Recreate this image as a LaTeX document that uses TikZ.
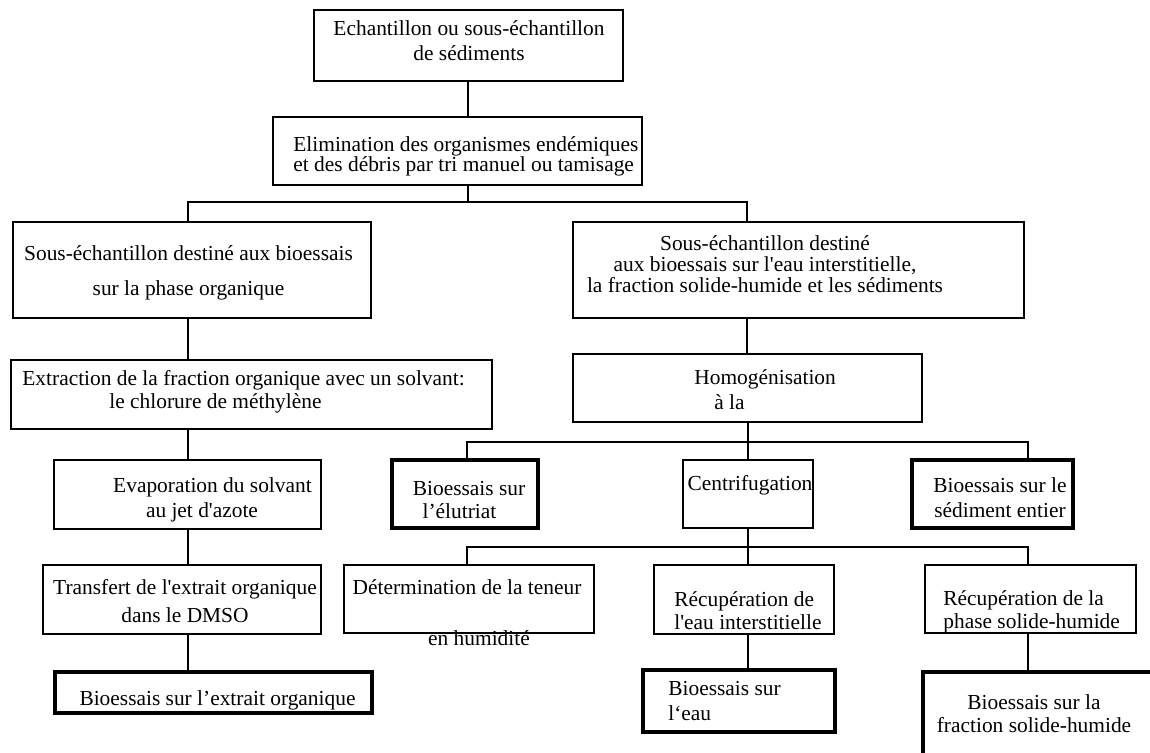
\documentclass[tikz,border=0pt]{standalone}
\usepackage{fontspec}
\setmainfont{Liberation Serif}
\tikzset{
  box/.style = {draw, line width=1pt, inner sep=0pt},
  tbox/.style = {box, line width=2.2pt},
  sz/.style n args = {2}{minimum width=#1*0.5pt, minimum height=#2*0.5pt},
  txt/.style = {inner sep=0pt, align=center, font=\fontsize{10.7}{12.5}\selectfont},
  lsp/.style = {font=\fontsize{10.7}{#1}\selectfont},
  link/.style = {line width=1.3pt}
}
\begin{document}
\begin{tikzpicture}[x=0.5pt, y=-0.5pt]
  \clip (0,0) rectangle (1150,752);

  % boxes
  \node[box, sz={309}{71}] (smp) at (468.5,45.5) {};
  \node[box, sz={369}{68}] (sort) at (457.5,151) {};
  \node[box, sz={358}{96}] (org) at (192,270) {};
  \node[box, sz={451}{96}] (wat) at (798.5,270) {};
  \node[box, sz={481}{69}] (ext) at (251.5,394.5) {};
  \node[box, sz={349}{68}] (hom) at (747.5,388) {};
  \node[box, sz={267}{69}] (eva) at (187.5,494.5) {};
  \node[box, sz={278}{69}] (tra) at (182,599.5) {};
  \node[tbox, sz={317}{41}] (bex) at (213.5,692.5) {};
  \node[tbox, sz={146}{68}] (elu) at (465,494) {};
  \node[box, sz={130}{68}] (cen) at (748,494) {};
  \node[tbox, sz={161}{68}] (sed) at (992.5,494) {};
  \node[box, sz={250}{68}] (det) at (469,599) {};
  \node[box, sz={180}{69}] (rew) at (744,599.5) {};
  \node[box, sz={211}{68}] (rph) at (1030.5,599) {};
  \node[tbox, sz={192}{62}] (bew) at (739,701) {};
  \node[tbox, sz={244}{96}] (bfr) at (1045,720) {};

  % texts
  \node[txt] (smp-t) at (469,40.5) {Echantillon ou sous-échantillon\\de sédiments};
  \node[txt, lsp=10, align=left, anchor=west] (sort-t) at (293,156)
    {Elimination des organismes endémiques\\et des débris par tri manuel ou tamisage};
  \node[txt, lsp=17.5] (org-t) at (188.5,272.5)
    {Sous-échantillon destiné aux bioessais\\sur la phase organique};
  \node[txt, lsp=10.5] (wat-t) at (765,264)
    {Sous-échantillon destiné\\aux bioessais sur l\textquotesingle eau interstitielle,\hspace*{11pt}\\la fraction solide-humide et les sédiments};
  \node[txt, lsp=11.5, align=left, anchor=west] (ext-t) at (22,391.5)
    {Extraction de la fraction organique avec un solvant:\\\hspace*{43.5pt}le chlorure de méthylène};
  \node[txt, align=left, anchor=west] (hom-t) at (694,389.5) {Homogénisation\\\hspace*{10pt}à la};
  \node[txt] (eva-t) at (212.5,499.5) {Evaporation du solvant\\au jet d\textquotesingle azote\hspace*{10.5pt}};
  \node[txt, lsp=14] (tra-t) at (185,601) {Transfert de l\textquotesingle extrait organique\\dans le DMSO};
  \node[txt] (bex-t) at (217.5,700) {Bioessais sur l’extrait organique};
  \node[txt, lsp=11.5] (elu-t) at (469,500.5) {Bioessais sur\\l’élutriat\hspace*{9.5pt}};
  \node[txt] (cen-t) at (750,485) {Centrifugation};
  \node[txt] (sed-t) at (1000,497.5) {Bioessais sur le\\sédiment entier};
  \node[txt, lsp=25.5] (det-t) at (467,612.5) {Détermination de la teneur\\\hspace*{12pt}en humidité};
  \node[txt, lsp=11.5, align=left, anchor=west] (rew-t) at (674,610.5)
    {Récupération de\\l\textquotesingle eau interstitielle};
  \node[txt, lsp=11.5, align=left, anchor=west] (rph-t) at (943,611.5)
    {Récupération de la\\phase solide-humide};
  \node[txt, align=left, anchor=west] (bew-t) at (668,700.5) {Bioessais sur\\l‘eau};
  \node[txt, lsp=11.5] (bfr-t) at (1034,713.5) {Bioessais sur la\\fraction solide-humide};

  % columns and junctions
  \coordinate (colL) at (188,0);
  \coordinate (colR) at (747,0);
  \coordinate (colA) at (467,0);
  \coordinate (colC) at (1028,0);
  \coordinate (j1) at (468,202);
  \coordinate (j2) at (748,442);
  \coordinate (j3) at (748,547);

  \draw[link] (smp.south -| j1) -- (sort.north -| j1);
  \draw[link] (sort.south -| j1) -- (j1);
  \draw[link] (org.north -| colL) |- (j1) -| (wat.north -| colR);

  \draw[link] (org.south -| colL) -- (ext.north -| colL);
  \draw[link] (ext.south -| colL) -- (eva.north -| colL);
  \draw[link] (eva.south -| colL) -- (tra.north -| colL);
  \draw[link] (tra.south -| colL) -- (bex.north -| colL);

  \draw[link] (wat.south -| colR) -- (hom.north -| colR);
  \draw[link] (hom.south -| j2) -- (j2);
  \draw[link] (elu.north -| colA) |- (j2) -| (sed.north -| colC);
  \draw[link] (j2) -- (cen.north -| j2);

  \draw[link] (cen.south -| j3) -- (j3);
  \draw[link] (det.north -| colA) |- (j3) -| (rph.north -| colC);
  \draw[link] (j3) -- (rew.north -| j3);
  \draw[link] (rew.south -| j3) -- (bew.north -| j3);
  \draw[link] (rph.south -| colC) -- (bfr.north -| colC);
\end{tikzpicture}
\end{document}
